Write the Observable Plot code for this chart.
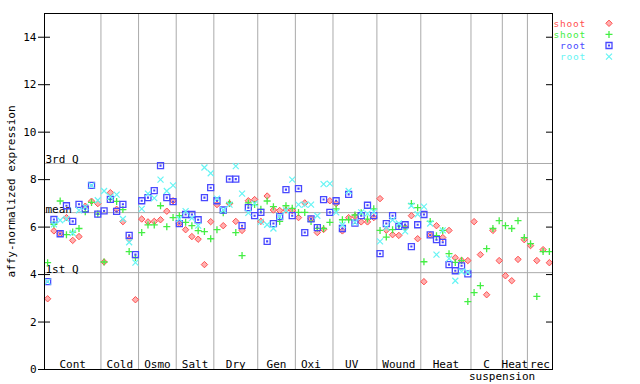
<!DOCTYPE html>
<html><head><meta charset="utf-8">
<script src="https://cdn.jsdelivr.net/npm/d3@7"></script>
<script src="https://cdn.jsdelivr.net/npm/@observablehq/plot@0.6"></script>
<style>
body{margin:0;background:#fff;}
#chart{width:640px;height:384px;overflow:hidden;}
</style></head><body><div id="chart"></div>
<script>
// ---- data ----
const groupNames = ["Cont","Cold","Osmo","Salt","Dry","Gen","Oxi\u00a0","UV\u00a0","Wound","Heat","C","Heat","rec"];
const groupSizes = [9,6,6,6,7,6,6,7,7,8,5,4,4];
const subLabel = "suspension"; // second line of "C suspension"
const yTicks = [0,2,4,6,8,10,12,14];
const refNames = ["3rd Q","mean","1st Q"];
const refValues = [8.68, 6.61, 4.08];

const shootA = [2.98,5.84,5.72,6.40,5.44,5.60,6.88,7.09,6.99,
  4.53,7.45,6.75,6.23,5.49,2.94,
  6.34,6.22,6.24,6.31,6.67,7.11,
  6.15,5.89,5.60,5.49,4.42,6.23,
  6.95,6.06,6.99,6.24,5.86,7.11,7.16,
  6.24,7.31,6.72,6.70,6.72,6.70,
  6.40,7.02,6.35,5.77,5.90,7.11,
  6.99,5.84,6.40,6.45,6.22,6.22,6.40,
  7.20,5.87,5.68,5.65,5.98,6.48,5.51,
  3.70,5.67,6.06,5.56,5.86,4.71,4.60,4.59,
  6.23,4.84,3.15,5.86,4.59,
  3.95,3.74,4.64,5.47,
  5.22,4.59,5.05,4.50];
const shootB = [4.50,6.12,7.10,5.68,5.79,5.94,6.65,7.04,6.55,
  4.53,7.17,7.08,6.74,4.97,4.72,
  5.77,6.09,6.09,6.90,6.02,6.40,
  6.48,6.20,6.06,5.85,5.81,5.51,
  5.89,6.60,7.02,5.77,4.80,7.02,6.95,
  6.75,7.10,6.86,6.24,6.90,6.79,
  6.62,6.62,6.24,5.95,5.94,6.20,
  6.77,6.31,6.31,6.51,6.60,6.34,6.77,
  5.86,5.58,5.89,6.05,6.00,6.99,6.82,
  4.54,6.24,5.64,5.86,4.88,4.51,4.59,2.86,
  3.24,3.53,5.09,5.94,6.27,
  6.06,5.94,6.27,5.56,
  5.30,3.08,4.97,4.97];
const rootA = [3.70,6.32,5.72,6.90,6.24,6.96,6.76,7.76,6.55,
  6.68,7.17,6.66,6.96,5.65,4.84,
  7.11,7.24,7.54,8.59,7.24,7.07,
  6.15,6.53,6.53,6.31,7.24,7.66,
  7.11,6.72,8.02,8.02,6.06,6.82,6.48,
  6.62,5.40,6.15,6.44,7.58,6.48,
  7.62,5.77,6.35,5.98,7.16,6.62,
  7.11,5.94,7.38,6.17,6.48,6.92,6.48,
  4.88,6.15,6.48,6.03,6.10,5.18,6.10,
  6.53,5.67,5.47,5.36,4.42,4.16,4.37,4.03,
  null,null,null,null,null,
  null,null,null,null,
  null,null,null,null];
const rootB = [3.70,6.12,6.29,6.34,5.75,6.71,6.85,7.76,7.13,
  7.52,7.28,7.37,6.34,5.36,4.50,
  6.77,7.41,7.22,8.00,7.52,7.76,
  6.34,6.67,6.38,6.06,8.51,8.27,
  7.20,6.72,6.95,8.57,7.41,6.60,6.99,
  6.22,6.10,5.94,6.44,6.70,8.00,
  6.95,6.95,6.95,6.48,7.81,7.83,
  6.62,6.10,7.52,6.20,6.62,6.57,6.65,
  5.40,5.98,6.30,6.15,5.82,6.90,6.54,
  6.86,6.15,4.84,5.86,4.67,3.74,4.13,4.10,
  null,null,null,null,null,
  null,null,null,null,
  null,null,null,null];

// ---- symbols ----
const mk = f => ({draw(c, size){ const r = Math.sqrt(size/Math.PI); f(c, r); }});
const diamondSym = mk((c,r)=>{c.moveTo(0,-r);c.lineTo(r,0);c.lineTo(0,r);c.lineTo(-r,0);c.closePath();});
const plusSym = mk((c,r)=>{c.moveTo(-r,0);c.lineTo(r,0);c.moveTo(0,-r);c.lineTo(0,r);});
const squareSym = mk((c,r)=>{c.rect(-r,-r,2*r,2*r);c.rect(-0.4,-0.4,0.8,0.8);});
const timesSym = mk((c,r)=>{c.moveTo(-r,-r);c.lineTo(r,r);c.moveTo(-r,r);c.lineTo(r,-r);});

const series = [
  {label:"shoot", values: shootA, color:"#ff5050", fill:"#ffb0b0", symbol: diamondSym, r:3.2, sw:1},
  {label:"shoot", values: shootB, color:"#44ee44", fill:"none", symbol: plusSym, r:3.5, sw:1.3},
  {label:"root", values: rootA, color:"#4848ff", fill:"none", symbol: squareSym, r:3, sw:1.3},
  {label:"root", values: rootB, color:"#66f4f4", fill:"none", symbol: timesSym, r:3, sw:1.2}
];

// ---- derived ----
const total = d3.sum(groupSizes);
const starts = [0, ...d3.cumsum(groupSizes)];
const groups = groupNames.map((name,i)=>({name, start: starts[i], end: starts[i+1]}));
const refs = refNames.map((label,i)=>({label, value: refValues[i]}));
const seps = starts.slice(1, -1);

const dotMarks = series.map(s => {
  const pts = s.values.map((v,i)=>({i: i+0.5, v})).filter(d => d.v != null);
  return Plot.dot(pts, {x:"i", y:"v", symbol: s.symbol, r: s.r, stroke: s.color, fill: s.fill, strokeWidth: s.sw});
});

const cGroup = groups[10];

const chart = Plot.plot({
  width: 640, height: 384,
  marginLeft: 44, marginRight: 88, marginTop: 13, marginBottom: 15,
  style: {fontFamily: "'DejaVu Sans Mono', monospace", fontSize: "11px", background: "white", color: "black", overflow: "visible"},
  x: {domain: [0, total], axis: null},
  y: {domain: [0, 15]},
  marks: [
    Plot.ruleX(seps, {x: d => d, stroke: "#aaaaaa"}),
    Plot.ruleY(refs, {y: "value", stroke: "#aaaaaa"}),
    Plot.text(refs, {y: "value", text: "label", frameAnchor: "left", textAnchor: "start", lineAnchor: "bottom", dx: 1, dy: 0, fill: "black"}),
    Plot.text(groups, {x: d => (d.start + d.end)/2, text: "name", frameAnchor: "bottom", lineAnchor: "bottom", dy: -2, fill: "black"}),
    Plot.text([cGroup], {x: "start", text: () => subLabel, frameAnchor: "bottom", textAnchor: "start", lineAnchor: "bottom", dx: -2, dy: 10, fill: "black"}),
    Plot.axisY({ticks: yTicks, tickSize: 6, tickPadding: 2, tickFormat: d => String(d), label: "affy-normalized expression", labelAnchor: "center", labelOffset: 37, labelArrow: "none"}),
    Plot.tickY(yTicks, {y: d => d, insetRight: 502, stroke: "black"}),
    Plot.tickY(yTicks, {y: d => d, insetLeft: 502, stroke: "black"}),
    ...dotMarks,
    Plot.frame({stroke: "black"})
  ]
});

// legend (top right)
const svg = d3.select(chart);
const lg = svg.append("g").attr("font-family", "'DejaVu Sans Mono', monospace").attr("font-size", 9.5).attr("letter-spacing", "0.8px");
series.forEach((s, k) => {
  const cy = 23.3 + k * 11.1;
  lg.append("text").attr("x", 586).attr("y", cy + 3.4).attr("text-anchor", "end").attr("fill", s.color).text(s.label);
  lg.append("path").attr("transform", `translate(609,${cy})`)
    .attr("d", d3.symbol(s.symbol, Math.PI * s.r * s.r)())
    .attr("fill", s.fill).attr("stroke", s.color).attr("stroke-width", s.sw);
});

document.getElementById("chart").appendChild(chart);
</script>
</body></html>
